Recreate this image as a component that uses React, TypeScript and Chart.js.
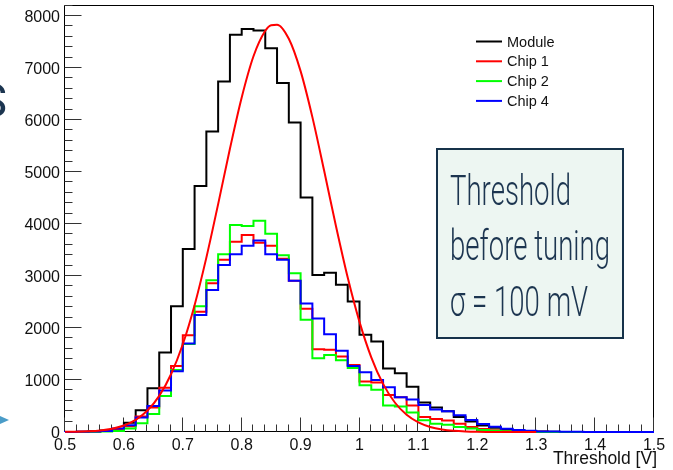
import React, { useEffect, useRef } from "react";
import { Chart, registerables } from "chart.js";

Chart.register(...registerables);

// Bin low edges (bin width 0.02 V), upper edge of the last bin = 1.5
const binLow = [
  0.5, 0.52, 0.54, 0.56, 0.58, 0.6, 0.62, 0.64, 0.66, 0.68,
  0.7, 0.72, 0.74, 0.76, 0.78, 0.8, 0.82, 0.84, 0.86, 0.88,
  0.9, 0.92, 0.94, 0.96, 0.98, 1.0, 1.02, 1.04, 1.06, 1.08,
  1.1, 1.12, 1.14, 1.16, 1.18, 1.2, 1.22, 1.24, 1.26, 1.28,
  1.3, 1.32, 1.34, 1.36, 1.38, 1.4, 1.42, 1.44, 1.46, 1.48,
];
const lastEdge = 1.5;

const moduleCounts = [
  0, 2, 6, 15, 30, 55, 180, 420, 840, 1530,
  2420, 3520, 4730, 5780, 6740, 7640, 7750, 7720, 7380, 6710,
  5950, 4510, 3020, 3060, 2830, 2510, 1870, 1740, 1220, 1130,
  870, 565, 470, 400, 290, 200, 125, 80, 50, 30,
  15, 8, 4, 2, 1, 0, 0, 0, 0, 0,
];
const chip1Counts = [
  0, 0, 3, 8, 20, 50, 110, 300, 470, 850,
  1270, 1860, 2310, 2860, 3310, 3660, 3790, 3640, 3580, 3330,
  2910, 2370, 1590, 1580, 1450, 1290, 970, 950, 710, 670,
  510, 290, 250, 220, 160, 95, 60, 35, 20, 10,
  5, 3, 2, 1, 0, 0, 0, 0, 0, 0,
];
const chip2Counts = [
  0, 0, 0, 3, 10, 20, 65, 170, 345, 690,
  1190, 1690, 2420, 2920, 3420, 3980, 3960, 4060, 3810, 3400,
  3050, 2160, 1420, 1480, 1380, 1230, 900, 810, 510, 490,
  375, 225, 160, 140, 95, 65, 40, 25, 15, 8,
  4, 2, 1, 0, 0, 0, 0, 0, 0, 0,
];
const chip4Counts = [
  0, 2, 5, 10, 20, 65, 130, 280, 500, 800,
  1170, 1700, 2250, 2730, 3210, 3420, 3580, 3680, 3420, 3310,
  2910, 2470, 2180, 1880, 1560, 1270, 1150, 1000, 860, 670,
  625, 520, 435, 400, 320, 230, 155, 100, 62, 40,
  22, 12, 8, 5, 3, 2, 2, 1, 1, 0,
];

// Red fit curve
const fitX = [
  0.5, 0.52, 0.54, 0.56, 0.58, 0.6, 0.62, 0.64, 0.66, 0.68,
  0.7, 0.72, 0.74, 0.76, 0.78, 0.8, 0.82, 0.84, 0.85, 0.86,
  0.88, 0.9, 0.92, 0.94, 0.96, 0.98, 1.0, 1.02, 1.04, 1.06,
  1.08, 1.1, 1.12, 1.14, 1.16, 1.18, 1.2, 1.22, 1.24, 1.26, 1.3,
];
const fitY = [
  3, 6, 14, 31, 64, 125, 233, 412, 694, 1110,
  1687, 2439, 3353, 4382, 5445, 6432, 7224, 7714, 7822, 7832,
  7560, 6938, 6054, 5022, 3961, 2970, 2118, 1436, 925, 567,
  330, 183, 96, 48, 23, 10, 4, 2, 1, 0, 0,
];

const xTickValues = [0.5, 0.6, 0.7, 0.8, 0.9, 1.0, 1.1, 1.2, 1.3, 1.4, 1.5];
const xTickLabels = ["0.5", "0.6", "0.7", "0.8", "0.9", "1", "1.1", "1.2", "1.3", "1.4", "1.5"];
const yTickValues = [0, 1000, 2000, 3000, 4000, 5000, 6000, 7000, 8000];
const yTickLabels = ["0", "1000", "2000", "3000", "4000", "5000", "6000", "7000", "8000"];
const xTitle = "Threshold [V]";
const legendLabels = ["Module", "Chip 1", "Chip 2", "Chip 4"];
const legendColors = ["#000000", "#ff0000", "#00ff00", "#0000ff"];
const boxLines = ["Threshold", "before tuning", "σ = 100 mV"];

function stepPoints(counts: number[]) {
  const pts = binLow.map((x, i) => ({ x, y: counts[i] }));
  pts.push({ x: lastEdge, y: counts[counts.length - 1] });
  return pts;
}

const FONT = '"Liberation Sans", Arial, sans-serif';

const decorPlugin = {
  id: "rootDecor",
  beforeDatasetsDraw(chart: any) {
    const { ctx, chartArea, scales } = chart;
    const { left, right, top, bottom } = chartArea;
    const xs = scales.x;
    const ys = scales.y;
    ctx.save();
    ctx.strokeStyle = "#000";
    ctx.lineWidth = 1;
    const L = Math.round(left) - 0.5;
    const R = Math.round(right) - 0.5;
    const T = Math.round(top) + 0.5;
    const B = Math.round(bottom) - 0.5;
    ctx.beginPath();
    ctx.rect(L, T, R - L, B - T);
    ctx.stroke();

    ctx.strokeStyle = "#333";
    // y ticks (minor every 200)
    ctx.beginPath();
    for (let k = 0; k <= 41; k++) {
      const v = k * 200;
      if (v > ys.max) break;
      const py = Math.round(ys.getPixelForValue(v)) - 0.5;
      const len = k % 5 === 0 ? 17 : 8;
      ctx.moveTo(L, py);
      ctx.lineTo(L + len, py);
    }
    // x ticks (minor every 0.02)
    for (let k = 0; k <= 50; k++) {
      const v = 0.5 + k * 0.02;
      const px = Math.round(xs.getPixelForValue(v)) - 0.5;
      const len = k % 5 === 0 ? 14 : 7;
      ctx.moveTo(px, B);
      ctx.lineTo(px, B - len);
    }
    ctx.stroke();

    ctx.fillStyle = "#111";
    ctx.font = `16px ${FONT}`;
    ctx.textAlign = "right";
    ctx.textBaseline = "alphabetic";
    yTickValues.forEach((v, i) => {
      const py = ys.getPixelForValue(v);
      ctx.fillText(yTickLabels[i], left - 5, py + 5.8);
    });
    ctx.textAlign = "center";
    xTickValues.forEach((v, i) => {
      const px = xs.getPixelForValue(v);
      ctx.fillText(xTickLabels[i], px, 450);
    });
    ctx.textAlign = "right";
    ctx.font = `17.5px ${FONT}`;
    ctx.fillText(xTitle, right + 3, 464);
    ctx.restore();
  },
  afterDraw(chart: any) {
    const { ctx } = chart;
    ctx.save();
    // legend
    ctx.font = `14.5px ${FONT}`;
    ctx.textAlign = "left";
    ctx.textBaseline = "middle";
    legendLabels.forEach((lab, i) => {
      const yy = 41.5 + i * 19.8;
      ctx.strokeStyle = legendColors[i];
      ctx.lineWidth = 2;
      ctx.beginPath();
      ctx.moveTo(476, yy);
      ctx.lineTo(502, yy);
      ctx.stroke();
      ctx.fillStyle = "#111";
      ctx.fillText(lab, 507, yy + 1);
    });

    // text box
    ctx.fillStyle = "#edf6f2";
    ctx.fillRect(437, 149, 186, 189);
    ctx.strokeStyle = "#16324a";
    ctx.lineWidth = 2;
    ctx.strokeRect(437, 149, 186, 189);
    ctx.fillStyle = "#1c3550";
    ctx.font = '300 42px Roboto, "DejaVu Sans", sans-serif';
    ctx.textBaseline = "alphabetic";
    const w = ctx.measureText(boxLines[1]).width;
    const s = 160 / w;
    const baselines = [205, 260, 316];
    boxLines.forEach((line, i) => {
      ctx.save();
      ctx.translate(450, baselines[i]);
      ctx.scale(s, 1);
      ctx.fillText(line, 0, 0);
      ctx.restore();
    });

    // slide remnants on the left edge
    ctx.fillStyle = "#1c3550";
    ctx.font = '48px Roboto, sans-serif';
    ctx.textAlign = "right";
    ctx.fillText("S", 7, 117);
    ctx.fillStyle = "#4a9cc8";
    ctx.beginPath();
    ctx.moveTo(0, 416);
    ctx.lineTo(9, 420);
    ctx.lineTo(0, 424);
    ctx.closePath();
    ctx.fill();
    ctx.restore();
  },
};

export default function App() {
  const canvasRef = useRef<HTMLCanvasElement | null>(null);

  useEffect(() => {
    if (!canvasRef.current) return;
    const common = {
      type: "line",
      stepped: "after",
      pointRadius: 0,
      borderWidth: 2,
      fill: false,
      clip: 4,
    };
    const chart = new Chart(canvasRef.current, {
      type: "line",
      data: {
        datasets: [
          {
            ...common,
            label: "fit",
            data: fitX.map((x, i) => ({ x, y: fitY[i] })),
            borderColor: "#ff0000",
            stepped: false,
            cubicInterpolationMode: "monotone",
            order: 0,
          },
          { ...common, label: legendLabels[3], data: stepPoints(chip4Counts), borderColor: "#0000ff", order: 1 },
          { ...common, label: legendLabels[2], data: stepPoints(chip2Counts), borderColor: "#00ff00", order: 2 },
          { ...common, label: legendLabels[1], data: stepPoints(chip1Counts), borderColor: "#ff0000", order: 3 },
          { ...common, label: legendLabels[0], data: stepPoints(moduleCounts), borderColor: "#000000", order: 4 },
        ] as any,
      },
      options: {
        animation: false,
        responsive: false,
        maintainAspectRatio: false,
        layout: { padding: { left: 65, top: 5, right: 19, bottom: 38 } },
        scales: {
          x: { type: "linear", min: 0.5, max: 1.5, display: false },
          y: { type: "linear", min: 0, max: 8210, display: false },
        },
        plugins: { legend: { display: false }, tooltip: { enabled: false } },
        elements: { point: { radius: 0 } },
      } as any,
      plugins: [decorPlugin],
    });
    return () => chart.destroy();
  }, []);

  return (
    <div style={{ position: "absolute", left: 0, top: 0, width: 673, height: 470, background: "#fff" }}>
      <canvas ref={canvasRef} width={673} height={470} style={{ width: 673, height: 470, display: "block" }} />
    </div>
  );
}
